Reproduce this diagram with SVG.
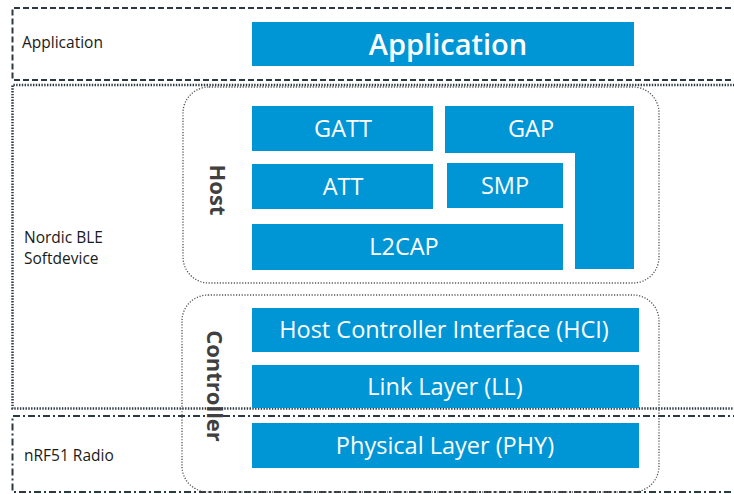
<svg xmlns="http://www.w3.org/2000/svg" width="734" height="494" viewBox="0 0 734 494">
<style>
.blk{fill:#0096D6}
.wt{fill:#ffffff;font-family:"Open Sans","Noto Sans",sans-serif;text-anchor:middle;font-size:23.5px}
.lbl{fill:#1a1a1a;font-family:"Open Sans","Noto Sans",sans-serif;font-size:15.5px}
.grp{fill:none;stroke:#555;stroke-width:1.3;stroke-dasharray:1.2 1.6}
.vt{fill:#404040;font-family:"Open Sans","Noto Sans",sans-serif;font-size:22px;font-weight:bold;text-anchor:middle}
</style>
<rect width="734" height="494" fill="#fff"/>
<g id="layers">
<path d="M740 8 H12.5 V80 H740" fill="none" stroke="#2b3a42" stroke-width="2" stroke-dasharray="6 3"/>
<path d="M740 85 H12.5 V408.5 H740" fill="none" stroke="#2b3a42" stroke-width="2.5" stroke-dasharray="1.4 1.4"/>
<path d="M740 416 H12.5 V492 H740" fill="none" stroke="#2b3a42" stroke-width="2" stroke-dasharray="7 3 2 3"/>
</g>
<g id="labels">
<text class="lbl" x="22" y="48">Application</text>
<text class="lbl" x="24" y="243">Nordic BLE</text>
<text class="lbl" x="24" y="264">Softdevice</text>
<text class="lbl" x="24" y="461">nRF51 Radio</text>
</g>
<g id="host">
<rect class="grp" x="183" y="87" width="476" height="196" rx="26"/>
<text class="vt" transform="translate(210 190) rotate(90)">Host</text>
</g>
<g id="controller">
<rect class="grp" x="182" y="295" width="477" height="197" rx="26"/>
<text class="vt" transform="translate(207 386) rotate(90)">Controller</text>
</g>
<g id="application">
<rect class="blk" x="252" y="22" width="382" height="44"/>
<text class="wt" x="448" y="55" style="font-size:29px;font-weight:600">Application</text>
</g>
<g id="gatt">
<rect class="blk" x="252" y="106" width="181" height="45"/>
<text class="wt" x="343" y="137">GATT</text>
</g>
<g id="gap">
<path class="blk" d="M445 106 H634 V269 H575 V153 H445 Z"/>
<text class="wt" x="531" y="137">GAP</text>
</g>
<g id="att">
<rect class="blk" x="252" y="164" width="181" height="45"/>
<text class="wt" x="343" y="195">ATT</text>
</g>
<g id="smp">
<rect class="blk" x="447" y="163" width="116" height="45"/>
<text class="wt" x="505" y="194">SMP</text>
</g>
<g id="l2cap">
<rect class="blk" x="252" y="224" width="311" height="46"/>
<text class="wt" x="404" y="255">L2CAP</text>
</g>
<g id="hci">
<rect class="blk" x="252" y="308" width="387" height="44"/>
<text class="wt" x="444" y="338">Host Controller Interface (HCI)</text>
</g>
<g id="ll">
<rect class="blk" x="252" y="365" width="387" height="43"/>
<text class="wt" x="445" y="395">Link Layer (LL)</text>
</g>
<g id="phy">
<rect class="blk" x="252" y="423" width="387" height="45"/>
<text class="wt" x="445" y="454">Physical Layer (PHY)</text>
</g>
</svg>
